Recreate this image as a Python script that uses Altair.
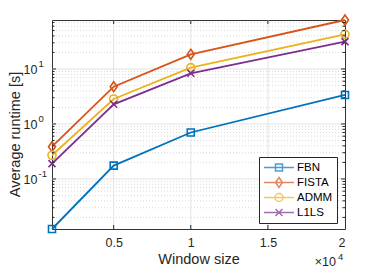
import altair as alt
import pandas as pd

# ---- data ----
x_vals = [1000, 5000, 10000, 20000]
series_names = ["FBN", "FISTA", "ADMM", "L1LS"]
fbn = [0.0123, 0.175, 0.70, 3.37]
fista = [0.386, 4.77, 18.5, 77.8]
admm = [0.27, 2.85, 10.6, 42.7]
l1ls = [0.19, 2.28, 8.35, 31.4]
series_values = [fbn, fista, admm, l1ls]
colors = ["#0072BD", "#D95319", "#EDB120", "#7E2F8E"]

x_tick_values = [5000, 10000, 15000, 20000]
x_tick_labels = ["0.5", "1", "1.5", "2"]
x_grid_values = [5000, 10000, 15000]
y_tick_values = [0.1, 1, 10]
y_tick_bases = ["10", "10", "10"]
y_tick_exponents = ["-1", "0", "1"]
y_minor_values = [0.02, 0.03, 0.04, 0.05, 0.06, 0.07, 0.08, 0.09,
                  0.2, 0.3, 0.4, 0.5, 0.6, 0.7, 0.8, 0.9,
                  2, 3, 4, 5, 6, 7, 8, 9,
                  20, 30, 40, 50, 60, 70]
x_multiplier_base = "\u00d710"
x_multiplier_exp = "4"
x_title = "Window size"
y_title = "Average runtime [s]"

# ---- styles ----
W, H = 293, 209
FONT = "Liberation Sans"
TXT = "#262626"
point_shapes = ["square", "M0,-1L0.7,0L0,1L-0.7,0Z", "circle", "M-1,-1L1,1M-1,1L1,-1"]
point_sizes = [49, 100, 64, 49]
legend_paths = [
    "M-1,0L1,0M-0.233,-0.233L0.233,-0.233L0.233,0.233L-0.233,0.233Z",
    "M-1,0L1,0M0,-0.333L0.233,0L0,0.333L-0.233,0Z",
    "M-1,0L1,0M-0.267,0A0.267,0.267,0,1,0,0.267,0A0.267,0.267,0,1,0,-0.267,0Z",
    "M-1,0L1,0M-0.233,-0.233L0.233,0.233M-0.233,0.233L0.233,-0.233",
]

rows = []
for name, vals in zip(series_names, series_values):
    for xv, yv in zip(x_vals, vals):
        rows.append({"series": name, "x": xv, "y": yv})
df = pd.DataFrame(rows)

all_y = [v for vals in series_values for v in vals]
xscale = alt.Scale(domain=[min(x_vals), max(x_vals)], nice=False, zero=False)
yscale = alt.Scale(type="log", domain=[min(all_y), max(all_y)], nice=False)

x_label_expr = f"{x_tick_labels}[indexof({x_tick_values}, datum.value)]"
y_label_expr = f"{y_tick_bases}[indexof({y_tick_values}, datum.value)]"

x_axis = alt.Axis(values=x_tick_values, labelExpr=x_label_expr, grid=False, ticks=False,
                  domain=False, labelPadding=7, labelFontSize=12.5, labelFont=FONT,
                  labelColor=TXT, title=x_title, titleFontSize=14.5, titleFont=FONT,
                  titleFontWeight="normal", titleColor=TXT, titlePadding=4)
y_axis = alt.Axis(values=y_tick_values, labelExpr=y_label_expr, grid=False, ticks=False,
                  domain=False, labelPadding=15, labelFontSize=12.5, labelFont=FONT,
                  labelColor=TXT, labelBaseline="middle", labelOffset=1,
                  title=y_title, titleFontSize=14.5, titleFont=FONT,
                  titleFontWeight="normal", titleColor=TXT, titleAngle=270,
                  titleX=-33, titleY=114, titleBaseline="alphabetic", titleAlign="center")


def X(field):
    return alt.X(field, scale=xscale, axis=x_axis, title=x_title)


def Y(field):
    return alt.Y(field, scale=yscale, axis=y_axis, title=y_title)


minor_df = pd.DataFrame({"v": y_minor_values})
ymajor_df = pd.DataFrame({"v": y_tick_values, "e": y_tick_exponents})
xgrid_df = pd.DataFrame({"v": x_grid_values})

minor_grid = alt.Chart(minor_df).mark_rule(color="#cfcfcf", strokeDash=[1, 2], strokeWidth=0.8).encode(
    y=Y("v:Q"))
major_grid_y = alt.Chart(ymajor_df).mark_rule(color="#e3e3e3", strokeWidth=1).encode(
    y=Y("v:Q"))
major_grid_x = alt.Chart(xgrid_df).mark_rule(color="#e3e3e3", strokeWidth=1).encode(
    x=X("v:Q"))

layers = [minor_grid, major_grid_y, major_grid_x]

for i, (name, col) in enumerate(zip(series_names, colors)):
    sub = df[df["series"] == name]
    line = alt.Chart(sub).mark_line(color=col, strokeWidth=1.8).encode(
        x=X("x:Q"), y=Y("y:Q"))
    pts = alt.Chart(sub).mark_point(shape=point_shapes[i], size=point_sizes[i], filled=False,
                                     color=col, strokeWidth=1.6, opacity=1).encode(
        x=X("x:Q"), y=Y("y:Q"))
    layers += [line, pts]

# inward ticks
tick_col = TXT
yt_left = alt.Chart(ymajor_df).mark_rule(color=tick_col).encode(
    y=Y("v:Q"), x=alt.value(0), x2=alt.value(4))
yt_right = alt.Chart(ymajor_df).mark_rule(color=tick_col).encode(
    y=Y("v:Q"), x=alt.value(W - 4), x2=alt.value(W))
ym_left = alt.Chart(minor_df).mark_rule(color=tick_col).encode(
    y=Y("v:Q"), x=alt.value(0), x2=alt.value(2.5))
ym_right = alt.Chart(minor_df).mark_rule(color=tick_col).encode(
    y=Y("v:Q"), x=alt.value(W - 2.5), x2=alt.value(W))
xt_bottom = alt.Chart(xgrid_df).mark_rule(color=tick_col).encode(
    x=X("v:Q"), y=alt.value(H - 4), y2=alt.value(H))
xt_top = alt.Chart(xgrid_df).mark_rule(color=tick_col).encode(
    x=X("v:Q"), y=alt.value(0), y2=alt.value(4))
layers += [yt_left, yt_right, ym_left, ym_right, xt_bottom, xt_top]

# exponents of the y tick labels (10^k)
y_exp = alt.Chart(ymajor_df).mark_text(align="left", baseline="middle", fontSize=9.5,
                                       font=FONT, color=TXT, dy=-5).encode(
    y=Y("v:Q"), x=alt.value(-13.5), text="e:N")
layers.append(y_exp)

# legend (built from a scale with explicit domain)
leg_kwargs = dict(orient="none", legendX=207, legendY=137, title=None, padding=4,
                  strokeColor="#262626", fillColor="white", symbolSize=900,
                  symbolStrokeWidth=1.5, labelFontSize=11.5, labelFont=FONT,
                  labelColor="#000000", clipHeight=13, rowPadding=2, labelOffset=2,
                  symbolOffset=0)
legend_layer = alt.Chart(df).mark_point(filled=False).encode(
    x=X("x:Q"), y=Y("y:Q"),
    color=alt.Color("series:N", scale=alt.Scale(domain=series_names, range=colors),
                    legend=alt.Legend(**leg_kwargs)),
    shape=alt.Shape("series:N", scale=alt.Scale(domain=series_names, range=legend_paths),
                    legend=alt.Legend(**leg_kwargs)),
).transform_filter("datum.y < 0")
layers.append(legend_layer)

mult_df = pd.DataFrame({"b": [x_multiplier_base], "e": [x_multiplier_exp]})
mult_base = alt.Chart(mult_df).mark_text(
    align="right", baseline="middle", fontSize=12.5, font=FONT, color=TXT).encode(
    text="b:N", x=alt.value(W - 9), y=alt.value(H + 33))
mult_exp = alt.Chart(mult_df).mark_text(
    align="left", baseline="middle", fontSize=9.5, font=FONT, color=TXT).encode(
    text="e:N", x=alt.value(W - 7), y=alt.value(H + 28))
layers += [mult_base, mult_exp]

chart = alt.layer(*layers).properties(
    width=W, height=H,
    autosize=alt.AutoSizeParams(type="none"),
    padding={"left": 44, "top": 12, "right": 29, "bottom": 42},
).configure_view(stroke="#333333", strokeWidth=1).configure_legend(cornerRadius=0)

chart.save("out.html", embed_options={"renderer": "svg", "actions": False})
